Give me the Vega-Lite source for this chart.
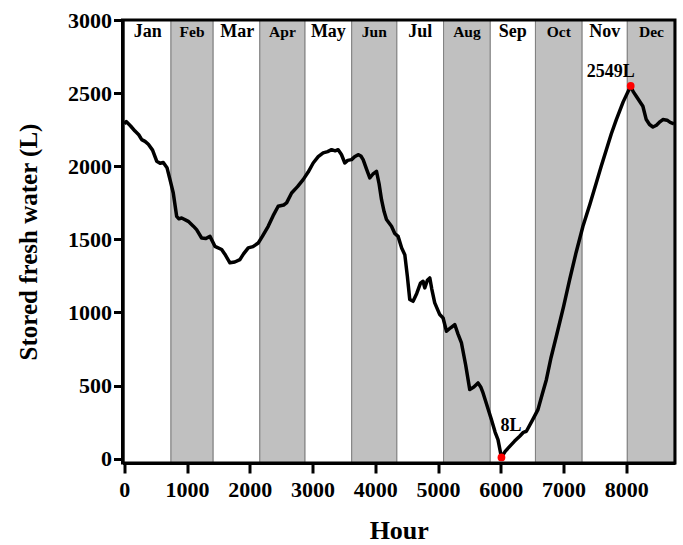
{
  "$schema": "https://vega.github.io/schema/vega-lite/v6.json",
  "width": 552.5,
  "height": 443,
  "autosize": "none",
  "padding": {"left": 122.5, "top": 20, "right": 8, "bottom": 82},
  "config": {"view": {"stroke": null}, "font": "Liberation Serif"},
  "datasets": {
    "months": [
      {"month": "Jan", "start": 0, "end": 744, "mid": 372, "band": "white"},
      {"month": "Feb", "start": 744, "end": 1416, "mid": 1080, "band": "gray"},
      {"month": "Mar", "start": 1416, "end": 2160, "mid": 1800, "band": "white"},
      {"month": "Apr", "start": 2160, "end": 2880, "mid": 2520, "band": "gray"},
      {"month": "May", "start": 2880, "end": 3624, "mid": 3252, "band": "white"},
      {"month": "Jun", "start": 3624, "end": 4344, "mid": 3984, "band": "gray"},
      {"month": "Jul", "start": 4344, "end": 5088, "mid": 4716, "band": "white"},
      {"month": "Aug", "start": 5088, "end": 5832, "mid": 5460, "band": "gray"},
      {"month": "Sep", "start": 5832, "end": 6552, "mid": 6192, "band": "white"},
      {"month": "Oct", "start": 6552, "end": 7296, "mid": 6924, "band": "gray"},
      {"month": "Nov", "start": 7296, "end": 8016, "mid": 7656, "band": "white"},
      {"month": "Dec", "start": 8016, "end": 8760, "mid": 8400, "band": "gray"}
    ],
    "water": [
      {"hour": 0, "water": 2290}, {"hour": 30, "water": 2305}, {"hour": 100, "water": 2275}, {"hour": 170, "water": 2240},
      {"hour": 230, "water": 2215}, {"hour": 277, "water": 2182}, {"hour": 330, "water": 2170}, {"hour": 383, "water": 2150}, {"hour": 450, "water": 2110},
      {"hour": 516, "water": 2034}, {"hour": 570, "water": 2020}, {"hour": 621, "water": 2025}, {"hour": 680, "water": 1990},
      {"hour": 728, "water": 1908}, {"hour": 780, "water": 1817}, {"hour": 834, "water": 1657},
      {"hour": 870, "water": 1640}, {"hour": 914, "water": 1646}, {"hour": 1019, "water": 1623},
      {"hour": 1100, "water": 1590}, {"hour": 1152, "water": 1566}, {"hour": 1232, "water": 1509},
      {"hour": 1300, "water": 1505}, {"hour": 1365, "water": 1520}, {"hour": 1444, "water": 1452},
      {"hour": 1551, "water": 1430}, {"hour": 1600, "water": 1400}, {"hour": 1683, "water": 1339},
      {"hour": 1760, "water": 1345}, {"hour": 1842, "water": 1361}, {"hour": 1900, "water": 1400},
      {"hour": 1975, "water": 1441}, {"hour": 2050, "water": 1450}, {"hour": 2134, "water": 1475},
      {"hour": 2200, "water": 1520}, {"hour": 2293, "water": 1589}, {"hour": 2370, "water": 1660},
      {"hour": 2452, "water": 1726}, {"hour": 2540, "water": 1735}, {"hour": 2586, "water": 1749},
      {"hour": 2666, "water": 1817}, {"hour": 2760, "water": 1860}, {"hour": 2850, "water": 1908},
      {"hour": 2930, "water": 1960}, {"hour": 3010, "water": 2022}, {"hour": 3090, "water": 2065},
      {"hour": 3169, "water": 2091}, {"hour": 3240, "water": 2100}, {"hour": 3303, "water": 2113},
      {"hour": 3360, "water": 2105}, {"hour": 3408, "water": 2113}, {"hour": 3460, "water": 2080},
      {"hour": 3514, "water": 2022}, {"hour": 3560, "water": 2040}, {"hour": 3621, "water": 2045},
      {"hour": 3670, "water": 2065}, {"hour": 3726, "water": 2079}, {"hour": 3770, "water": 2070},
      {"hour": 3806, "water": 2045}, {"hour": 3860, "water": 1980}, {"hour": 3912, "water": 1920},
      {"hour": 3960, "water": 1945}, {"hour": 4019, "water": 1965}, {"hour": 4060, "water": 1880},
      {"hour": 4099, "water": 1771}, {"hour": 4140, "water": 1690}, {"hour": 4178, "water": 1635},
      {"hour": 4258, "water": 1589}, {"hour": 4310, "water": 1540}, {"hour": 4363, "water": 1520},
      {"hour": 4420, "water": 1440}, {"hour": 4470, "water": 1395}, {"hour": 4510, "water": 1250},
      {"hour": 4549, "water": 1088}, {"hour": 4602, "water": 1076}, {"hour": 4660, "water": 1130},
      {"hour": 4720, "water": 1200}, {"hour": 4761, "water": 1213}, {"hour": 4788, "water": 1168},
      {"hour": 4830, "water": 1220}, {"hour": 4868, "water": 1236}, {"hour": 4900, "water": 1160},
      {"hour": 4947, "water": 1065}, {"hour": 5027, "water": 985}, {"hour": 5080, "water": 962},
      {"hour": 5134, "water": 871}, {"hour": 5200, "water": 895}, {"hour": 5266, "water": 917},
      {"hour": 5320, "water": 850}, {"hour": 5373, "water": 791}, {"hour": 5440, "water": 640},
      {"hour": 5505, "water": 472}, {"hour": 5570, "water": 490}, {"hour": 5637, "water": 518},
      {"hour": 5680, "water": 490}, {"hour": 5717, "water": 449}, {"hour": 5790, "water": 350},
      {"hour": 5850, "water": 267}, {"hour": 5910, "water": 180}, {"hour": 5955, "water": 130},
      {"hour": 6010, "water": 8}, {"hour": 6070, "water": 50}, {"hour": 6142, "water": 84},
      {"hour": 6220, "water": 120}, {"hour": 6301, "water": 153}, {"hour": 6360, "water": 180},
      {"hour": 6408, "water": 187}, {"hour": 6500, "water": 260}, {"hour": 6592, "water": 335},
      {"hour": 6660, "water": 440}, {"hour": 6726, "water": 540}, {"hour": 6800, "water": 690},
      {"hour": 6885, "water": 837}, {"hour": 7000, "water": 1040}, {"hour": 7097, "water": 1224},
      {"hour": 7200, "water": 1410}, {"hour": 7309, "water": 1589}, {"hour": 7420, "water": 1740},
      {"hour": 7522, "water": 1886}, {"hour": 7600, "water": 2000}, {"hour": 7682, "water": 2113},
      {"hour": 7760, "water": 2220}, {"hour": 7841, "water": 2319}, {"hour": 7950, "water": 2440},
      {"hour": 8070, "water": 2549}, {"hour": 8110, "water": 2510}, {"hour": 8159, "water": 2478},
      {"hour": 8264, "water": 2410}, {"hour": 8318, "water": 2319}, {"hour": 8370, "water": 2285},
      {"hour": 8424, "water": 2268}, {"hour": 8480, "water": 2280}, {"hour": 8540, "water": 2305},
      {"hour": 8583, "water": 2319}, {"hour": 8650, "water": 2315}, {"hour": 8700, "water": 2300},
      {"hour": 8760, "water": 2290}
    ],
    "extremes": [
      {"hour": 6010, "water": 8, "label": "8L", "kind": "min"},
      {"hour": 8070, "water": 2549, "label": "2549L", "kind": "max"}
    ]
  },
  "layer": [
    {
      "data": {"name": "months"},
      "mark": {"type": "rect", "stroke": "#808080", "strokeWidth": 1},
      "encoding": {
        "x": {
          "field": "start", "type": "quantitative", "title": "Hour",
          "scale": {"domain": [-29, 8776], "nice": false, "zero": false},
          "axis": {
            "values": [0, 500, 1000, 1500, 2000, 2500, 3000, 3500, 4000, 4500, 5000, 5500, 6000, 6500, 7000, 7500, 8000, 8500],
            "labelExpr": "datum.value % 1000 === 0 ? datum.label : ''",
            "format": "d",
            "tickSize": {"condition": {"test": "datum.value % 1000 === 0", "value": 10}, "value": 6},
            "tickWidth": 3, "tickColor": "black",
            "domainColor": "black", "domainWidth": 3,
            "labelFont": "Liberation Serif", "labelFontWeight": "bold", "labelFontSize": 22, "labelColor": "black",
            "labelPadding": 6, "labelFlush": false, "labelOverlap": false,
            "titleFont": "Liberation Serif", "titleFontSize": 26, "titleFontWeight": "bold", "titleColor": "black",
            "titlePadding": 17, "grid": false, "zindex": 1
          }
        },
        "x2": {"field": "end"},
        "fill": {
          "field": "band", "type": "nominal",
          "scale": {"domain": ["white", "gray"], "range": ["#ffffff", "#c0c0c0"]},
          "legend": null
        }
      }
    },
    {
      "data": {"name": "water"},
      "mark": {"type": "line", "color": "black", "strokeWidth": 3.5, "strokeJoin": "round"},
      "encoding": {
        "x": {"field": "hour", "type": "quantitative", "title": "Hour"},
        "y": {
          "field": "water", "type": "quantitative", "title": "Stored fresh water (L)",
          "scale": {"domain": [-30, 3000], "nice": false, "zero": false},
          "axis": {
            "values": [0, 250, 500, 750, 1000, 1250, 1500, 1750, 2000, 2250, 2500, 2750, 3000],
            "labelExpr": "datum.value % 500 === 0 ? datum.label : ''",
            "format": "d",
            "tickSize": {"condition": {"test": "datum.value % 500 === 0", "value": 9}, "value": 5},
            "tickWidth": 3, "tickColor": "black",
            "domainColor": "black", "domainWidth": 3,
            "labelFont": "Liberation Serif", "labelFontWeight": "bold", "labelFontSize": 22, "labelColor": "black",
            "labelPadding": 2, "labelFlush": false, "labelOverlap": false,
            "titleFont": "Liberation Serif", "titleFontSize": 25, "titleFontWeight": "bold", "titleColor": "black",
            "titlePadding": 26, "grid": false, "zindex": 1
          }
        }
      }
    },
    {
      "data": {"name": "extremes"},
      "mark": {"type": "circle", "color": "#ff0000", "opacity": 1, "size": 60},
      "encoding": {
        "x": {"field": "hour", "type": "quantitative", "title": "Hour"},
        "y": {"field": "water", "type": "quantitative", "title": "Stored fresh water (L)"}
      }
    },
    {
      "data": {"name": "extremes"},
      "transform": [{"filter": "datum.kind === 'min'"}],
      "mark": {"type": "text", "font": "Liberation Serif", "fontWeight": "bold", "fontSize": 18, "align": "left", "baseline": "middle", "dx": -1, "dy": -31, "color": "black"},
      "encoding": {
        "x": {"field": "hour", "type": "quantitative", "title": "Hour"},
        "y": {"field": "water", "type": "quantitative", "title": "Stored fresh water (L)"},
        "text": {"field": "label"}
      }
    },
    {
      "data": {"name": "extremes"},
      "transform": [{"filter": "datum.kind === 'max'"}],
      "mark": {"type": "text", "font": "Liberation Serif", "fontWeight": "bold", "fontSize": 18, "align": "right", "baseline": "middle", "dx": 4, "dy": -14, "color": "black"},
      "encoding": {
        "x": {"field": "hour", "type": "quantitative", "title": "Hour"},
        "y": {"field": "water", "type": "quantitative", "title": "Stored fresh water (L)"},
        "text": {"field": "label"}
      }
    },
    {
      "data": {"name": "months"},
      "mark": {"type": "text", "font": "Liberation Serif", "fontWeight": "bold", "baseline": "middle", "color": "black"},
      "encoding": {
        "x": {"field": "mid", "type": "quantitative", "title": "Hour"},
        "y": {"datum": 2915, "type": "quantitative"},
        "text": {"field": "month"},
        "size": {
          "field": "band", "type": "nominal",
          "scale": {"domain": ["white", "gray"], "range": [18, 15.5]},
          "legend": null
        }
      }
    },
    {
      "data": {"values": [{"x0": -29, "x1": 8776, "y0": -30, "y1": 3000}]},
      "mark": {"type": "rect", "fill": null, "stroke": "black", "strokeWidth": 3},
      "encoding": {
        "x": {"field": "x0", "type": "quantitative", "title": "Hour"},
        "x2": {"field": "x1"},
        "y": {"field": "y0", "type": "quantitative", "title": "Stored fresh water (L)"},
        "y2": {"field": "y1"}
      }
    }
  ]
}
